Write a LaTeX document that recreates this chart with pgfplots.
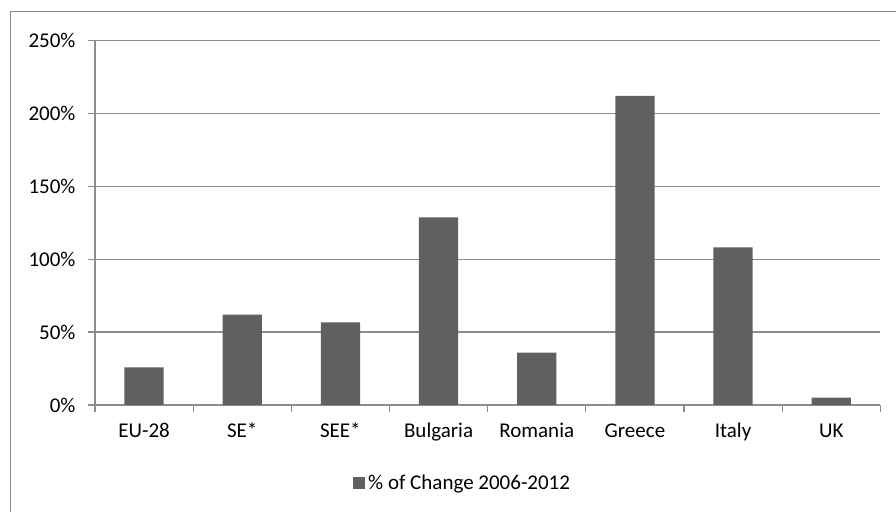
\documentclass[border=0pt]{standalone}
\usepackage{pgfplots}
\pgfplotsset{compat=1.18}
\usepackage{fontspec}
\setmainfont{Carlito}
\definecolor{barc}{HTML}{606060}
\definecolor{gridc}{HTML}{8C8C8C}
\definecolor{framec}{HTML}{8A8A8A}
\begin{document}
\begin{tikzpicture}[x=1bp,y=1bp]
\useasboundingbox (0,0) rectangle (896,512);
% outer chart frame
\draw[framec, line width=1.4bp] (10.5,-10) -- (10.5,500.3) -- (910,500.3);
\begin{axis}[
  at={(95bp,107bp)}, anchor=south west,
  scale only axis, width=785.3bp, height=364.3bp,
  xmin=-0.5, xmax=7.5, ymin=0, ymax=250,
  axis lines*=left,
  axis line style={gridc, line width=1.3bp},
  x tick label as interval,
  xtick={-0.5,0.5,...,7.5},
  xticklabels={EU-28,SE*,SEE*,Bulgaria,Romania,Greece,Italy,UK},
  ytick={0,50,...,250},
  yticklabel={\pgfmathprintnumber{\tick}\%},
  /pgf/number format/assume math mode=true,
  tick align=outside,
  major tick length=7bp,
  tick style={gridc, line width=1.3bp},
  ymajorgrids,
  grid style={gridc, line width=1.3bp},
  ticklabel style={font=\fontsize{21bp}{25bp}\selectfont, text=black},
  xticklabel style={text height=13.5bp, text depth=4.5bp, yshift=-8bp},
  yticklabel style={xshift=-9bp},
  legend style={at={(0.4686,-0.214)}, anchor=center, draw=none, fill=none,
    inner sep=0pt, font=\fontsize{21bp}{25bp}\selectfont,
    nodes={inner xsep=2.8bp, inner ysep=0pt}},
  legend image code/.code={\fill[barc] (0bp,-6.15bp) rectangle (12.3bp,6.15bp);},
  clip=false,
]
\addplot[ybar, fill=barc, draw=none, bar width=0.4] coordinates {
  (0,25.9) (1,62.0) (2,56.7) (3,128.8) (4,35.9) (5,212.1) (6,108.2) (7,5.0)
};
\addlegendentry{\% of Change 2006-2012}
\end{axis}
\end{tikzpicture}
\end{document}
